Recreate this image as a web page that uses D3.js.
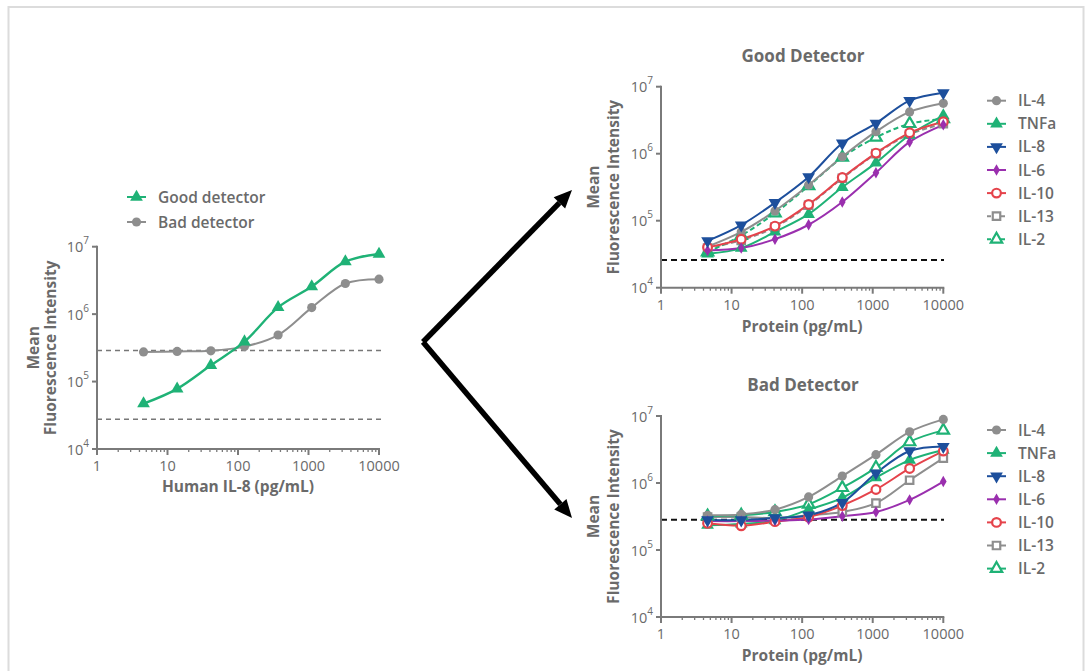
<!DOCTYPE html>
<html><head><meta charset="utf-8">
<script src="https://cdn.jsdelivr.net/npm/d3@7"></script>
<style>
body{margin:0;background:#fff;}
svg{display:block;font-family:"Open Sans",sans-serif;}
</style></head>
<body><svg id="c" width="1085" height="671"></svg>
<script>
// ---- data ----
const conc = [4.57, 13.7, 41.2, 123.5, 370.4, 1111, 3333, 10000];
const xTicks = [1, 10, 100, 1000, 10000];
const yExp = [4, 5, 6, 7];

const leftGood = [4.7e4, 7.8e4, 1.74e5, 3.9e5, 1.26e6, 2.56e6, 6.0e6, 7.8e6];
const leftBad  = [2.75e5, 2.8e5, 2.86e5, 3.3e5, 4.9e5, 1.25e6, 2.85e6, 3.3e6];
const leftThresholds = [2.88e5, 2.77e4];

const cytokines = ["IL-4", "TNFa", "IL-8", "IL-6", "IL-10", "IL-13", "IL-2"];
const goodIL4  = [4.1e4, 6.8e4, 1.4e5, 3.4e5, 9.0e5, 2.13e6, 4.2e6, 5.65e6];
const goodTNFa = [3.2e4, 3.9e4, 6.8e4, 1.25e5, 3.15e5, 7.3e5, 1.9e6, 3.7e6];
const goodIL8  = [5.0e4, 8.6e4, 1.86e5, 4.5e5, 1.43e6, 2.84e6, 6.2e6, 8.1e6];
const goodIL6  = [3.6e4, 3.9e4, 5.3e4, 8.7e4, 1.9e5, 5.2e5, 1.5e6, 2.7e6];
const goodIL10 = [4.0e4, 5.3e4, 8.3e4, 1.75e5, 4.4e5, 1.02e6, 2.05e6, 3.0e6];
const goodIL13 = [3.9e4, 5.1e4, 8.0e4, 1.7e5, 4.3e5, 1.0e6, 1.95e6, 2.8e6];
const goodIL2  = [3.4e4, 6.0e4, 1.3e5, 3.3e5, 8.8e5, 1.75e6, 2.8e6, 3.3e6];
const goodThreshold = 2.59e4;

const badIL4  = [3.3e5, 3.4e5, 4.0e5, 6.2e5, 1.27e6, 2.65e6, 5.8e6, 8.9e6];
const badTNFa = [2.35e5, 2.45e5, 2.75e5, 4.0e5, 6.0e5, 1.2e6, 2.2e6, 3.1e6];
const badIL8  = [2.8e5, 2.8e5, 3.0e5, 3.3e5, 5.1e5, 1.4e6, 3.0e6, 3.5e6];
const badIL6  = [2.7e5, 2.7e5, 2.75e5, 2.85e5, 3.2e5, 3.7e5, 5.6e5, 1.05e6];
const badIL10 = [2.5e5, 2.3e5, 2.65e5, 3.1e5, 4.6e5, 8.0e5, 1.65e6, 3.0e6];
const badIL13 = [3.1e5, 3.1e5, 3.0e5, 3.3e5, 3.7e5, 5.0e5, 1.1e6, 2.35e6];
const badIL2  = [3.2e5, 3.3e5, 3.7e5, 4.8e5, 8.5e5, 1.7e6, 4.1e6, 6.1e6];
const badThreshold = 2.82e5;

// ---- styles ----
const TXT = "#6a6a6a", AX = "#7a7a7a";
const GREEN = "#1fb276", GRAY = "#8e8e8e", BLUE = "#1d4f9c", PURPLE = "#9a2fae", RED = "#e5434b";
const styles = {
  "IL-4":  {color: GRAY,   sym: "circle",  open: false},
  "TNFa":  {color: GREEN,  sym: "tri",     open: false},
  "IL-8":  {color: BLUE,   sym: "triDown", open: false},
  "IL-6":  {color: PURPLE, sym: "diamond", open: false},
  "IL-10": {color: RED,    sym: "circle",  open: true},
  "IL-13": {color: GRAY,   sym: "square",  open: true},
  "IL-2":  {color: GREEN,  sym: "tri",     open: true}
};
const goodSeries = [goodIL4, goodTNFa, goodIL8, goodIL6, goodIL10, goodIL13, goodIL2];
const badSeries  = [badIL4, badTNFa, badIL8, badIL6, badIL10, badIL13, badIL2];

const svg = d3.select("#c");
svg.append("rect").attr("x", 8.5).attr("y", 7).attr("width", 1075).attr("height", 700)
  .attr("fill", "none").attr("stroke", "#dcdcdc").attr("stroke-width", 2);

function symPath(sym, open) {
  const s = {circle: [d3.symbolCircle, open ? 60 : 66], tri: [d3.symbolTriangle, open ? 56 : 70],
             triDown: [d3.symbolTriangle, 70], diamond: [d3.symbolDiamond, 38], square: [d3.symbolSquare, 56]}[sym];
  return d3.symbol().type(s[0]).size(s[1])();
}
function drawMarker(g, x, y, st) {
  const p = g.append("path").attr("d", symPath(st.sym, st.open))
    .attr("transform", `translate(${x},${y})` + (st.sym === "triDown" ? " rotate(180)" : ""));
  if (st.open) p.attr("fill", "#fff").attr("stroke", st.color).attr("stroke-width", 2.2);
  else p.attr("fill", st.color);
}

function axes(g, x, y, opt) {
  const [x0, x1] = x.range(), [y0, y1] = y.range();
  yExp.forEach(e => {
    const yy = y(Math.pow(10, e));
    g.append("line").attr("x1", x0 - 5).attr("x2", x0).attr("y1", yy).attr("y2", yy)
      .attr("stroke", AX).attr("stroke-width", 2);
    const t = g.append("text").attr("x", x0 - 8).attr("y", yy + 5.5).attr("text-anchor", "end")
      .attr("fill", TXT).attr("font-size", 14.5);
    t.append("tspan").text("10");
    t.append("tspan").attr("dy", -8).attr("font-size", 10).text(e);
  });
  const minor = [];
  for (let k = 0; k < 4; k++) for (let m = 2; m <= 9; m++) minor.push(m * Math.pow(10, k));
  g.selectAll(null).data(minor).join("line")
    .attr("x1", d => x(d)).attr("x2", d => x(d)).attr("y1", y0).attr("y2", y0 + 3)
    .attr("stroke", AX).attr("stroke-width", 1.3);
  g.selectAll(null).data(xTicks).join("line")
    .attr("x1", d => x(d)).attr("x2", d => x(d)).attr("y1", y0).attr("y2", y0 + 6)
    .attr("stroke", AX).attr("stroke-width", 2);
  g.selectAll(null).data(xTicks).join("text")
    .attr("x", d => x(d)).attr("y", y0 + 22).attr("text-anchor", "middle")
    .attr("fill", TXT).attr("font-size", 14.5).text(d => d);
  g.append("line").attr("x1", x0).attr("x2", x0).attr("y1", y0 + 1).attr("y2", y1 - 1)
    .attr("stroke", AX).attr("stroke-width", 2);
  g.append("line").attr("x1", x0 - 1).attr("x2", x1 + 1).attr("y1", y0).attr("y2", y0)
    .attr("stroke", AX).attr("stroke-width", 2);
  g.append("text").attr("x", (x0 + x1) / 2).attr("y", y0 + opt.xTitleDy).attr("text-anchor", "middle")
    .attr("fill", TXT).attr("font-size", 15.5).attr("font-weight", 700).text(opt.xTitle);
  const cy = (y0 + y1) / 2;
  g.append("text").attr("transform", `translate(${x0 + opt.meanDx},${cy}) rotate(-90)`)
    .attr("text-anchor", "middle").attr("fill", TXT).attr("font-size", 15.5).attr("font-weight", 700).text("Mean");
  g.append("text").attr("transform", `translate(${x0 + opt.fiDx},${cy}) rotate(-90)`)
    .attr("text-anchor", "middle").attr("fill", TXT).attr("font-size", 15.5).attr("font-weight", 700)
    .text("Fluorescence Intensity");
}

function line(x, y) {
  return d3.line().x((d, i) => x(conc[i])).y(d => y(d)).curve(d3.curveCatmullRom.alpha(0.5));
}

// ---- left chart ----
{
  const g = svg.append("g");
  const x = d3.scaleLog().domain([1, 10000]).range([97, 379]);
  const y = d3.scaleLog().domain([1e4, 1e7]).range([449, 246.7]);
  leftThresholds.forEach(v => g.append("line").attr("x1", 97).attr("x2", 382)
    .attr("y1", y(v)).attr("y2", y(v)).attr("stroke", "#777").attr("stroke-width", 1.5)
    .attr("stroke-dasharray", "5,4"));
  axes(g, x, y, {xTitle: "Human IL-8 (pg/mL)", xTitleDy: 43, meanDx: -58, fiDx: -41});
  const sets = [[leftBad, {color: GRAY, sym: "circle", open: false}], [leftGood, {color: GREEN, sym: "tri", open: false}]];
  sets.forEach(([vals, st]) => {
    g.append("path").datum(vals).attr("d", line(x, y)).attr("fill", "none")
      .attr("stroke", st.color).attr("stroke-width", st.color === GREEN ? 2.4 : 2);
    vals.forEach((v, i) => drawMarker(g, x(conc[i]), y(v), st));
  });
  const leg = [["Good detector", {color: GREEN, sym: "tri", open: false}, 197], ["Bad detector", {color: GRAY, sym: "circle", open: false}, 222]];
  leg.forEach(([name, st, yy]) => {
    g.append("line").attr("x1", 127).attr("x2", 146).attr("y1", yy).attr("y2", yy)
      .attr("stroke", st.color).attr("stroke-width", 2);
    drawMarker(g, 136.5, yy, st);
    g.append("text").attr("x", 158).attr("y", yy + 5.5).attr("fill", TXT).attr("font-size", 15.5)
      .attr("font-weight", 600).text(name);
  });
}

// ---- right panels ----
function panel(top, title, series, threshold, dashedOpen) {
  const g = svg.append("g");
  const x = d3.scaleLog().domain([1, 10000]).range([661, 943.3]);
  const y = d3.scaleLog().domain([1e4, 1e7]).range([top + 201, top]);
  g.append("text").attr("x", 803).attr("y", top - 25).attr("text-anchor", "middle")
    .attr("fill", TXT).attr("font-size", 17).attr("font-weight", 700).text(title);
  g.append("line").attr("x1", 661).attr("x2", 944).attr("y1", y(threshold)).attr("y2", y(threshold))
    .attr("stroke", "#111").attr("stroke-width", 2).attr("stroke-dasharray", "6,4");
  axes(g, x, y, {xTitle: "Protein (pg/mL)", xTitleDy: 44, meanDx: -62, fiDx: -42});
  const order = [5, 6, 0, 1, 4, 3, 2];
  order.forEach(k => {
    const st = styles[cytokines[k]];
    const dashed = dashedOpen && (cytokines[k] === "IL-13" || cytokines[k] === "IL-2");
    g.append("path").datum(series[k]).attr("d", line(x, y)).attr("fill", "none")
      .attr("stroke", st.color).attr("stroke-width", 2)
      .attr("stroke-dasharray", dashed ? "5,3" : null);
  });
  order.forEach(k => {
    const st = styles[cytokines[k]];
    series[k].forEach((v, i) => drawMarker(g, x(conc[i]), y(v), st));
  });
  cytokines.forEach((name, i) => {
    const st = styles[name];
    const yy = top + 14 + i * 23.1;
    const dashed = dashedOpen && (name === "IL-13" || name === "IL-2");
    g.append("line").attr("x1", 987).attr("x2", 1006).attr("y1", yy).attr("y2", yy)
      .attr("stroke", st.color).attr("stroke-width", 2).attr("stroke-dasharray", dashed ? "4,3" : null);
    drawMarker(g, 996.5, yy, st);
    g.append("text").attr("x", 1018).attr("y", yy + 5.5).attr("fill", TXT).attr("font-size", 15.5)
      .attr("font-weight", 600).text(name);
  });
}
panel(86.7, "Good Detector", goodSeries, goodThreshold, true);
panel(416, "Bad Detector", badSeries, badThreshold, false);

// ---- arrows ----
function arrow(x0, y0, x1, y1) {
  const a = Math.atan2(y1 - y0, x1 - x0), L = 18, W = 8;
  const bx = x1 - L * Math.cos(a), by = y1 - L * Math.sin(a);
  svg.append("line").attr("x1", x0).attr("y1", y0).attr("x2", bx).attr("y2", by)
    .attr("stroke", "#000").attr("stroke-width", 5.5);
  const px = -Math.sin(a) * W, py = Math.cos(a) * W;
  svg.append("path").attr("d", `M${x1},${y1}L${bx + px},${by + py}L${bx - px},${by - py}Z`).attr("fill", "#000");
}
arrow(423, 342, 572, 190);
arrow(423, 342, 572, 518);
</script></body></html>
